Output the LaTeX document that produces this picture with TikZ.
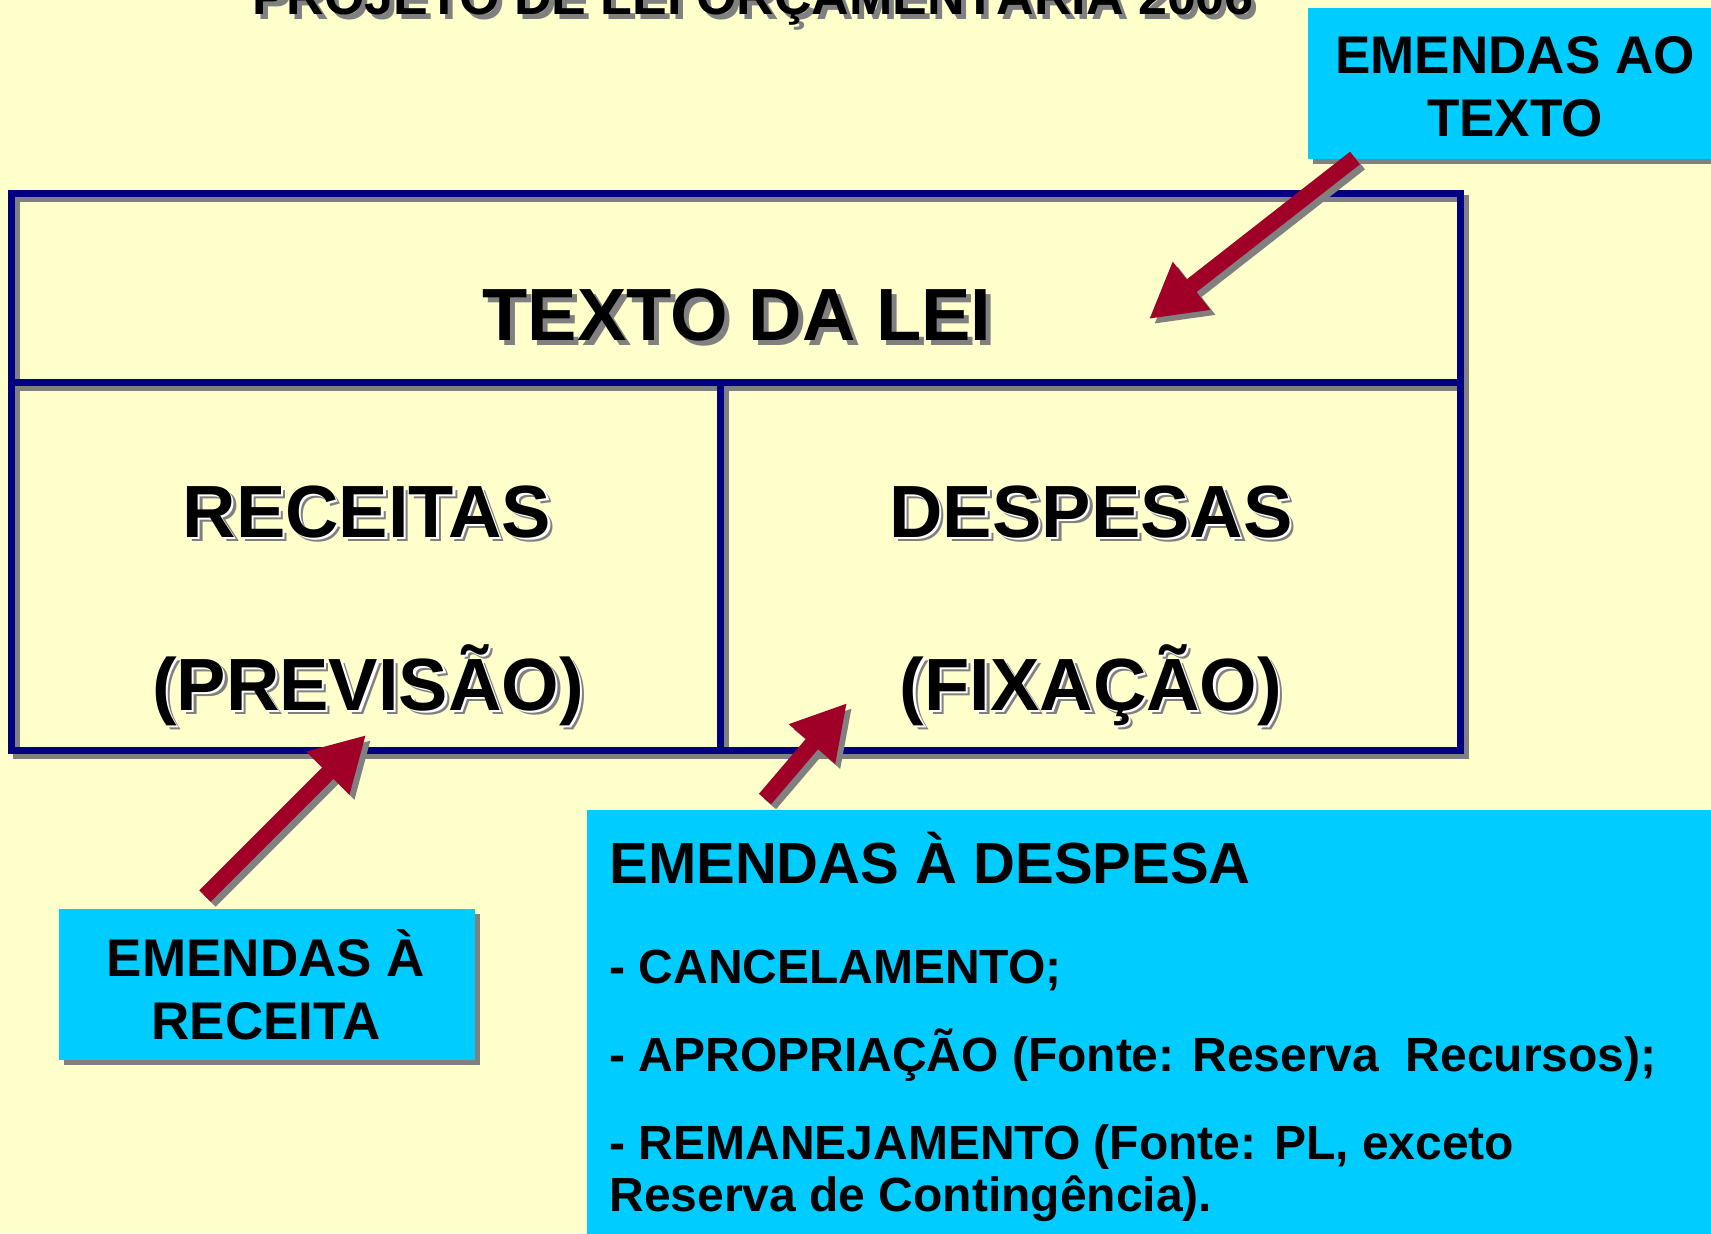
\documentclass[tikz,border=0pt]{standalone}
\usepackage{fontspec}
\setmainfont{Liberation Sans}
\usetikzlibrary{arrows.meta,shadows}

\definecolor{fundo}{HTML}{FFFFCC}
\definecolor{ciano}{HTML}{00CCFF}
\definecolor{marinho}{HTML}{000080}
\definecolor{vinho}{HTML}{A00028}
\definecolor{sombra}{HTML}{808080}

\newcommand{\sombreado}[1]{\rlap{\kern2.5pt\raisebox{-2.5pt}{\color{sombra}#1}}#1}
\newcommand{\relevo}[1]{\rlap{\kern2.2pt\raisebox{-2.2pt}{\color{sombra}#1}}\rlap{\kern1.1pt\raisebox{-1.1pt}{\color{white}#1}}#1}

\begin{document}
\begin{tikzpicture}[x=0.5pt,y=-0.5pt,
    grade/.style={draw=marinho,line width=3.5pt},
    gradesombra/.style={draw=sombra,line width=3.5pt,transform canvas={shift={(2.5pt,-2.5pt)}}},
    caixa/.style={fill=ciano,inner sep=0pt,outer sep=0pt,anchor=north west,
        drop shadow={shadow xshift=2.5pt,shadow yshift=-2.5pt,fill=sombra,opacity=1}},
    titulo/.style={font=\fontsize{26}{30}\selectfont\bfseries,anchor=base},
    celula/.style={font=\fontsize{37}{44}\selectfont\bfseries,anchor=base},
    rotulo/.style={font=\fontsize{26.5}{31.5}\selectfont\bfseries,align=center,anchor=base},
    seta/.style={draw=vinho,line width=8pt,-{Triangle[length=27pt,width=28.5pt]}},
    setasombra/.style={draw=sombra,line width=8pt,-{Triangle[length=27pt,width=28.5pt]},
        transform canvas={shift={(2.5pt,-2.5pt)}}}]
  \useasboundingbox (0,0) rectangle (1711,1233);
  \clip (0,0) rectangle (1711,1233);
  \fill[fundo] (0,0) rectangle (1711,1233);

  % titulo (cortado no alto)
  \node[titulo] (titulo) at (753,14) {\sombreado{PROJETO DE LEI ORÇAMENTÁRIA 2006}};

  % quadro da lei
  \foreach \s in {gradesombra,grade}
    \draw[\s] (11,193) rectangle (1460,750) (11,382) -- (1460,382) (720,382) -- (720,750);

  \node[celula] (lei) at (737,340) {\sombreado{TEXTO DA LEI}};
  \node[celula] (receitas) at (367,537) {\relevo{RECEITAS}};
  \node[celula] (previsao) at (368,710) {\relevo{(PREVISÃO)}};
  \node[celula] (despesas) at (1091,537) {\relevo{DESPESAS}};
  \node[celula] (fixacao) at (1091,710) {\relevo{(FIXAÇÃO)}};

  % emendas (base = ultima linha)
  \node[caixa,minimum width=212pt,minimum height=75.5pt] (emTexto) at (1308,8) {};
  \node[rotulo] (emTextoTxt) at (1515,136) {EMENDAS AO\\TEXTO};

  \node[caixa,minimum width=208pt,minimum height=75.5pt] (emReceita) at (59,909) {};
  \node[rotulo] (emReceitaTxt) at (266,1039) {EMENDAS À\\RECEITA};

  \node[caixa,minimum width=570pt,minimum height=215pt] (emDespesa) at (587,810) {};
  \node[font=\fontsize{29}{34}\selectfont\bfseries,anchor=base west,inner sep=0pt]
    (emDespesaTit) at (609,883) {EMENDAS À DESPESA};
  \node[font=\fontsize{24}{26}\selectfont\bfseries,align=left,anchor=base west,inner sep=0pt]
    (emDespesaLista) at (609,1211) {- CANCELAMENTO;\\[18pt]
      - APROPRIAÇÃO (Fonte: Reserva\ \ Recursos);\\[18pt]
      - REMANEJAMENTO (Fonte: PL, exceto\\
      Reserva de Contingência).};

  % setas
  \coordinate (caudaTexto) at (1355,158);
  \coordinate (pontaTexto) at (1149,319);
  \coordinate (caudaReceita) at (205,896);
  \coordinate (pontaReceita) at (366,735);
  \coordinate (caudaDespesa) at (765,799);
  \coordinate (pontaDespesa) at (847,703);
  \foreach \de/\para in {caudaTexto/pontaTexto,caudaReceita/pontaReceita,caudaDespesa/pontaDespesa} {
    \draw[setasombra] (\de) -- (\para);
    \draw[seta] (\de) -- (\para);
  }
\end{tikzpicture}
\end{document}
